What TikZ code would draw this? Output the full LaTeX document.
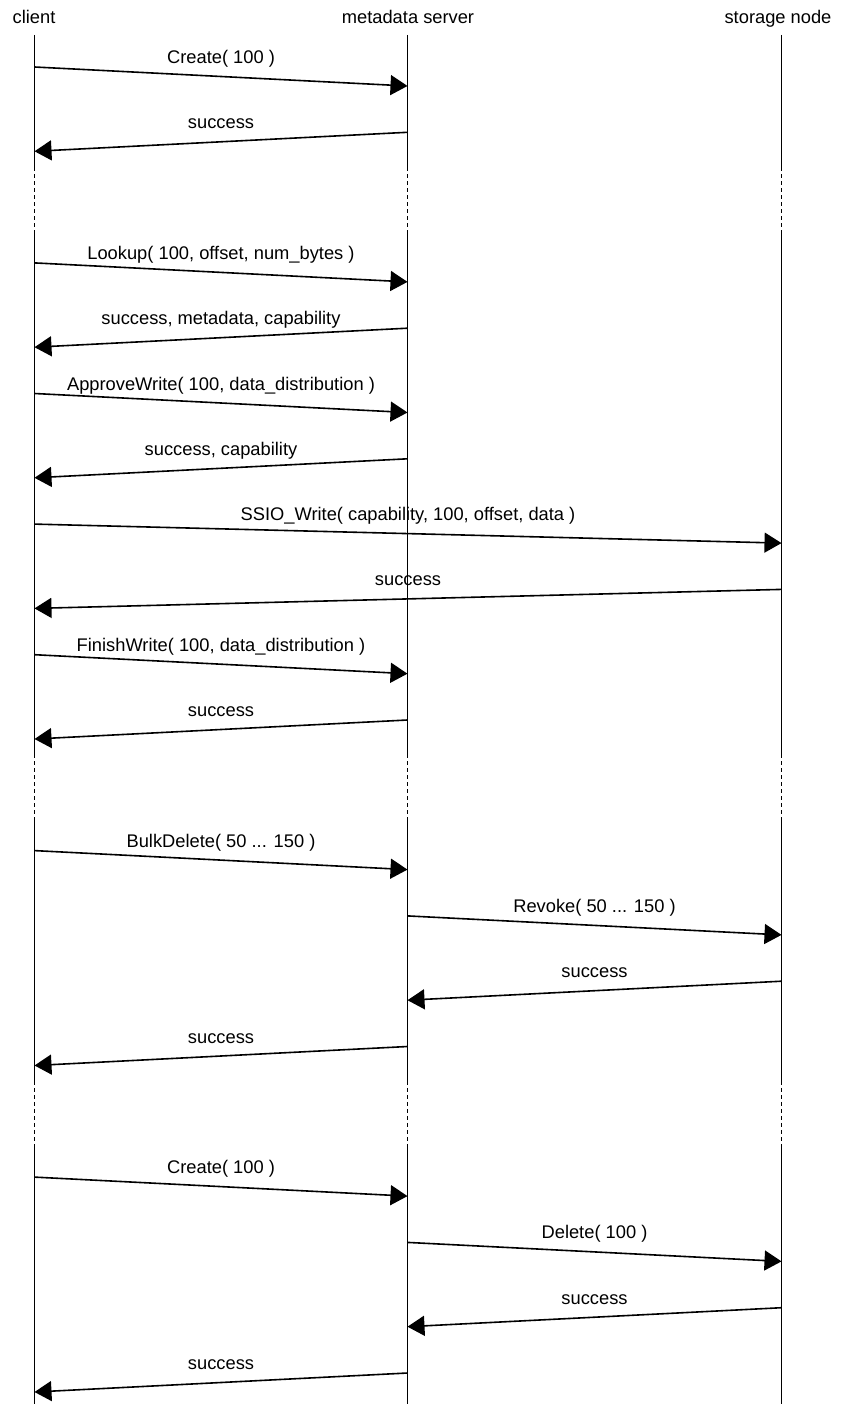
\documentclass[tikz,border=0pt]{standalone}
\usepackage{fontspec}
\setmainfont{Liberation Sans}
\usetikzlibrary{arrows.meta,calc}
\begin{document}
\begin{tikzpicture}[x=1pt,y=-1pt,
  lifeline/.style={line width=1.7pt},
  gapline/.style={line width=1.7pt, dash pattern=on 4pt off 3pt},
  msg/.style={line width=1.6pt,-{Triangle[length=17pt,width=20pt]}},
  lbl/.style={font=\fontsize{18.3}{22}\selectfont, anchor=base, inner sep=0pt},
  head/.style={font=\fontsize{18.3}{22}\selectfont, anchor=base, inner sep=0pt}]
\useasboundingbox (0,0) rectangle (840,1404);
% headers
\node[head] (hc) at (34,24) {client};
\node[head] (hm) at (408,24) {metadata server};
\node[head] (hs) at (778,24) {storage node};
% lifelines
\foreach \n/\x in {c/34.5, m/407.5, s/781.5}{
  \coordinate (\n0) at (\x,35);
  \coordinate (\n1) at (\x,167.5);
  \coordinate (\n2) at (\x,231);
  \coordinate (\n3) at (\x,754.3);
  \coordinate (\n4) at (\x,818.3);
  \coordinate (\n5) at (\x,1080.8);
  \coordinate (\n6) at (\x,1144.8);
  \coordinate (\n7) at (\x,1404);
  \draw[lifeline] (\n0) -- (\n1);
  \draw[gapline] (\n1) -- (\n2);
  \draw[lifeline] (\n2) -- (\n3);
  \draw[gapline] (\n3) -- (\n4);
  \draw[lifeline] (\n4) -- (\n5);
  \draw[gapline] (\n5) -- (\n6);
  \draw[lifeline] (\n6) -- (\n7);
}
% messages
\foreach \i/\a/\b/\k/\t in {
  1/34.5/407.5/0/{Create( 100 )},
  2/407.5/34.5/1/{success},
  3/34.5/407.5/3/{Lookup( 100, offset, num\_bytes )},
  4/407.5/34.5/4/{success, metadata, capability},
  5/34.5/407.5/5/{ApproveWrite( 100, data\_distribution )},
  6/407.5/34.5/6/{success, capability},
  7/34.5/781.5/7/{SSIO\_Write( capability, 100, offset, data )},
  8/781.5/34.5/8/{success},
  9/34.5/407.5/9/{FinishWrite( 100, data\_distribution )},
  10/407.5/34.5/10/{success},
  11/34.5/407.5/12/{BulkDelete( 50 ... 150 )},
  12/407.5/781.5/13/{Revoke( 50 ... 150 )},
  13/781.5/407.5/14/{success},
  14/407.5/34.5/15/{success},
  15/34.5/407.5/17/{Create( 100 )},
  16/407.5/781.5/18/{Delete( 100 )},
  17/781.5/407.5/19/{success},
  18/407.5/34.5/20/{success}}{
  \coordinate (s\i) at (\a,{67+65.3*\k});
  \coordinate (e\i) at (\b,{86+65.3*\k});
  \draw[msg] (s\i) -- (e\i);
  \node[lbl] (l\i) at ({(\a+\b)/2},{63.5+65.3*\k}) {\t};
}
\end{tikzpicture}
\end{document}
